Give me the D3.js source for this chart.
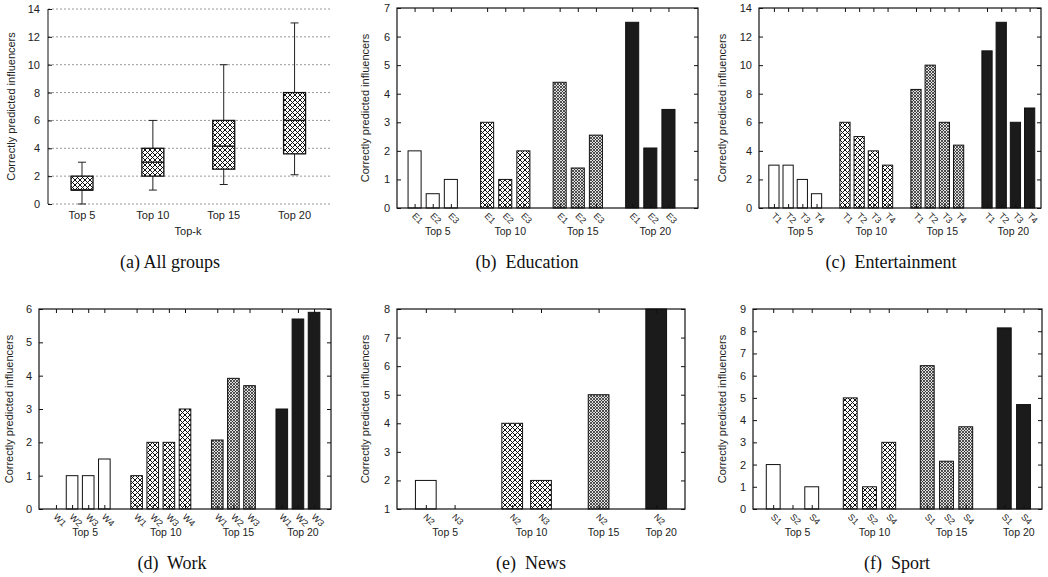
<!DOCTYPE html>
<html>
<head>
<meta charset="utf-8">
<script src="https://cdn.jsdelivr.net/npm/d3@7"></script>
<style>
  body { margin: 0; background: #fff; }
  svg text { font-family: "Liberation Sans", Arial, sans-serif; fill: #222; }
  svg text.caption { font-family: "Liberation Serif", "DejaVu Serif", serif; font-size: 18px; fill: #111; }
</style>
</head>
<body>
<svg id="chart" width="1048" height="577"></svg>
<script>
// Gruppen (Top-k)
const groups = ["Top 5", "Top 10", "Top 15", "Top 20"];

// (a) Boxplot über alle Gruppen
const boxMin = [0, 1, 1.4, 2.1];
const boxQ1 = [1, 2, 2.5, 3.6];
const boxMedian = [1, 3, 4.15, 6];
const boxQ3 = [2, 4, 6, 8];
const boxMax = [3, 6, 10, 13];

// (b) Education
const eduLabels = [["E1", "E2", "E3"], ["E1", "E2", "E3"], ["E1", "E2", "E3"], ["E1", "E2", "E3"]];
const eduValues = [[2, 0.5, 1], [3, 1, 2], [4.4, 1.4, 2.55], [6.5, 2.1, 3.45]];

// (c) Entertainment
const entLabels = [["T1", "T2", "T3", "T4"], ["T1", "T2", "T3", "T4"], ["T1", "T2", "T3", "T4"], ["T1", "T2", "T3", "T4"]];
const entValues = [[3, 3, 2, 1], [6, 5, 4, 3], [8.3, 10, 6, 4.4], [11, 13, 6, 7]];

// (d) Work
const workLabels = [["W1", "W2", "W3", "W4"], ["W1", "W2", "W3", "W4"], ["W1", "W2", "W3"], ["W1", "W2", "W3"]];
const workValues = [[0, 1, 1, 1.5], [1, 2, 2, 3], [2.07, 3.92, 3.7], [3, 5.7, 5.9]];

// (e) News
const newsLabels = [["N2", "N3"], ["N2", "N3"], ["N2"], ["N2"]];
const newsValues = [[2, 1], [4, 2], [5], [8]];

// (f) Sport
const sportLabels = [["S1", "S2", "S4"], ["S1", "S2", "S4"], ["S1", "S2", "S4"], ["S1", "S4"]];
const sportValues = [[2, 0, 1], [5, 1, 3], [6.45, 2.15, 3.7], [8.15, 4.7]];

const svg = d3.select("#chart");
const yTitle = "Correctly predicted influencers";

// Muster für die Balken
const defs = svg.append("defs");
const p10 = defs.append("pattern").attr("id", "hatch10")
    .attr("patternUnits", "userSpaceOnUse").attr("width", 5).attr("height", 5);
p10.append("rect").attr("width", 5).attr("height", 5).attr("fill", "#fff");
p10.append("path").attr("d", "M0,0L5,5M5,0L0,5").attr("stroke", "#111").attr("stroke-width", 1);

const p15 = defs.append("pattern").attr("id", "hatch15")
    .attr("patternUnits", "userSpaceOnUse").attr("width", 3).attr("height", 3);
p15.append("rect").attr("width", 3).attr("height", 3).attr("fill", "#e0e0e0");
p15.append("path").attr("d", "M0,0L3,3M3,0L0,3").attr("stroke", "#222").attr("stroke-width", 0.75);

const fills = ["#fff", "url(#hatch10)", "url(#hatch15)", "#1b1b1b"];

function yAxisTitle(x, y) {
    svg.append("text")
        .attr("transform", `translate(${x},${y}) rotate(-90)`)
        .attr("text-anchor", "middle")
        .style("font-size", "11px")
        .text(yTitle);
}

function caption(x, y, txt) {
    svg.append("text").attr("class", "caption")
        .attr("x", x).attr("y", y)
        .attr("text-anchor", "middle")
        .attr("xml:space", "preserve")
        .text(txt);
}

// (a) Boxplot
function boxPanel() {
    const L = 48, T = 9, R = 330, B = 204;
    const x = d3.scaleLinear().domain([0.52, 4.5]).range([L, R]);
    const y = d3.scaleLinear().domain([0, 14]).range([B, T]);
    const g = svg.append("g");

    // Gitterlinien
    g.selectAll(".grid").data(d3.range(0, 15, 2)).join("line")
        .attr("x1", L).attr("x2", R)
        .attr("y1", d => y(d)).attr("y2", d => y(d))
        .attr("stroke", "#999").attr("stroke-dasharray", "2 2");

    g.append("line").attr("x1", L).attr("x2", L).attr("y1", T).attr("y2", B)
        .attr("stroke", "#111");

    const yAx = g.append("g").attr("transform", `translate(${L},0)`)
        .call(d3.axisRight(y).tickValues(d3.range(0, 15, 2)).tickSize(4).tickFormat(""));
    yAx.select(".domain").remove();
    yAx.selectAll("line").attr("stroke", "#111");

    g.selectAll(".ylab").data(d3.range(0, 15, 2)).join("text")
        .attr("x", L - 8).attr("y", d => y(d) + 4)
        .attr("text-anchor", "end").style("font-size", "11px")
        .text(d => d);

    const stats = groups.map((k, i) => ({ k, i: i + 1, min: boxMin[i], q1: boxQ1[i], med: boxMedian[i], q3: boxQ3[i], max: boxMax[i] }));
    const bw = 22, cw = 8;
    const bx = g.selectAll(".box").data(stats).join("g");
    bx.append("line")
        .attr("x1", d => x(d.i)).attr("x2", d => x(d.i))
        .attr("y1", d => y(d.min)).attr("y2", d => y(d.max))
        .attr("stroke", "#222");
    bx.append("line").attr("x1", d => x(d.i) - cw / 2).attr("x2", d => x(d.i) + cw / 2)
        .attr("y1", d => y(d.min)).attr("y2", d => y(d.min)).attr("stroke", "#222");
    bx.append("line").attr("x1", d => x(d.i) - cw / 2).attr("x2", d => x(d.i) + cw / 2)
        .attr("y1", d => y(d.max)).attr("y2", d => y(d.max)).attr("stroke", "#222");
    bx.append("rect")
        .attr("x", d => x(d.i) - bw / 2).attr("width", bw)
        .attr("y", d => y(d.q3)).attr("height", d => y(d.q1) - y(d.q3))
        .attr("fill", "url(#hatch10)").attr("stroke", "#111").attr("stroke-width", 1.3);
    bx.append("line").attr("x1", d => x(d.i) - bw / 2).attr("x2", d => x(d.i) + bw / 2)
        .attr("y1", d => y(d.med)).attr("y2", d => y(d.med)).attr("stroke", "#111").attr("stroke-width", 1.3);

    g.selectAll(".xlab").data(stats).join("text")
        .attr("x", d => x(d.i)).attr("y", B + 15)
        .attr("text-anchor", "middle").style("font-size", "11px")
        .text(d => d.k);
    g.append("text").attr("x", 188).attr("y", B + 31)
        .attr("text-anchor", "middle").style("font-size", "11px").text("Top-k");

    yAxisTitle(15, (T + B) / 2);
}

// (b)-(f) gruppierte Balken
function barPanel(cfg) {
    const { L, T, R, B, yDomain, yTicks, xDomain, labels, values } = cfg;
    const x = d3.scaleLinear().domain(xDomain).range([L, R]);
    const y = d3.scaleLinear().domain(yDomain).range([B, T]);
    const g = svg.append("g");

    // Balkenpositionen: Cluster mit einer Lücke dazwischen
    const bars = [];
    const centers = [];
    let slot = 0;
    values.forEach((vals, gi) => {
        const first = slot;
        vals.forEach((v, j) => {
            bars.push({ gi, slot, v, label: labels[gi][j] });
            slot++;
        });
        centers.push({ gi, c: (first + slot - 1) / 2 });
        slot++;
    });

    const bw = x(0.72) - x(0);
    g.selectAll(".bar").data(bars.filter(d => d.v > yDomain[0])).join("rect")
        .attr("x", d => x(d.slot) - bw / 2).attr("width", bw)
        .attr("y", d => y(d.v)).attr("height", d => y(yDomain[0]) - y(d.v))
        .attr("fill", d => fills[d.gi]).attr("stroke", "#111").attr("stroke-width", 1);

    // Rahmen
    g.append("rect").attr("x", L).attr("y", T).attr("width", R - L).attr("height", B - T)
        .attr("fill", "none").attr("stroke", "#111").attr("stroke-width", 1.2);

    // Ticks links/rechts
    const yl = g.append("g").attr("transform", `translate(${L},0)`)
        .call(d3.axisRight(y).tickValues(yTicks).tickSize(4).tickFormat(""));
    const yr = g.append("g").attr("transform", `translate(${R},0)`)
        .call(d3.axisLeft(y).tickValues(yTicks).tickSize(4).tickFormat(""));
    // Ticks oben/unten an den Balken
    const xt = g.append("g").attr("transform", `translate(0,${T})`)
        .call(d3.axisBottom(x).tickValues(bars.map(d => d.slot)).tickSize(4).tickFormat(""));
    const xb = g.append("g").attr("transform", `translate(0,${B})`)
        .call(d3.axisTop(x).tickValues(bars.map(d => d.slot)).tickSize(4).tickFormat(""));
    [yl, yr, xt, xb].forEach(a => {
        a.select(".domain").remove();
        a.selectAll("line").attr("stroke", "#111");
    });

    g.selectAll(".ylab").data(yTicks).join("text")
        .attr("x", L - 7).attr("y", d => y(d) + 4)
        .attr("text-anchor", "end").style("font-size", "11px")
        .text(d => d);

    g.selectAll(".blab").data(bars).join("text")
        .attr("transform", d => `translate(${x(d.slot) - 3},${B + 8.5}) rotate(45)`)
        .style("font-size", "9px")
        .text(d => d.label);

    g.selectAll(".glab").data(centers).join("text")
        .attr("x", d => x(d.c) + 5).attr("y", B + 27)
        .attr("text-anchor", "middle").style("font-size", "10.5px")
        .text(d => groups[d.gi]);

    yAxisTitle(cfg.titleX, (T + B) / 2);
}

boxPanel();
barPanel({ L: 397, T: 8, R: 698, B: 208, yDomain: [0, 7], yTicks: d3.range(0, 8),
    xDomain: [-0.97, 15.63], labels: eduLabels, values: eduValues, titleX: 369 });
barPanel({ L: 759, T: 8, R: 1041, B: 208, yDomain: [0, 14], yTicks: d3.range(0, 15, 2),
    xDomain: [-1.05, 18.8], labels: entLabels, values: entValues, titleX: 726 });
barPanel({ L: 39, T: 309, R: 331, B: 509, yDomain: [0, 6], yTicks: d3.range(0, 7),
    xDomain: [-1.05, 17.05], labels: workLabels, values: workValues, titleX: 13 });
barPanel({ L: 397, T: 309, R: 685, B: 509, yDomain: [1, 8], yTicks: d3.range(1, 9),
    xDomain: [-1, 9], labels: newsLabels, values: newsValues, titleX: 369 });
barPanel({ L: 753, T: 309, R: 1042, B: 509, yDomain: [0, 9], yTicks: d3.range(0, 10),
    xDomain: [-1.05, 13.96], labels: sportLabels, values: sportValues, titleX: 726 });

caption(170, 268, "(a) All groups");
caption(527, 268, "(b)  Education");
caption(891, 268, "(c)  Entertainment");
caption(172, 569, "(d)  Work");
caption(531, 569, "(e)  News");
caption(897, 569, "(f)  Sport");
</script>
</body>
</html>
